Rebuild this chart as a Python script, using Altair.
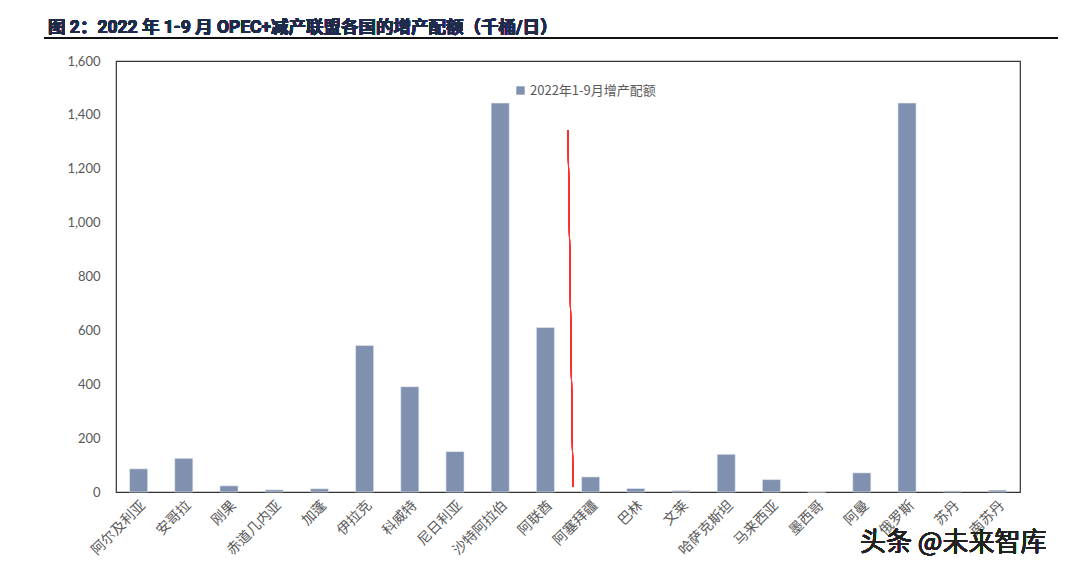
import altair as alt
import pandas as pd

countries = ["阿尔及利亚", "安哥拉", "刚果", "赤道几内亚", "加蓬", "伊拉克", "科威特",
             "尼日利亚", "沙特阿拉伯", "阿联酋", "阿塞拜疆", "巴林", "文莱", "哈萨克斯坦",
             "马来西亚", "墨西哥", "阿曼", "俄罗斯", "苏丹", "南苏丹"]
increase = [86, 125, 23, 8, 12, 544, 391, 150, 1444, 611, 56, 13, 5, 140, 46, 0, 71, 1444, 4, 7]
series_name = "2022年1-9月增产配额"
y_ticks = [0, 200, 400, 600, 800, 1000, 1200, 1400, 1600]
title_text = "图 2：2022 年 1-9 月 OPEC+减产联盟各国的增产配额（千桶/日）"

df = pd.DataFrame({"country": countries, "value": increase, "series": series_name})

W, H = 904, 431
LABEL_FONT = "Lato"
CJK_FONT = "Noto Sans CJK SC"
BAR = "#7F91AE"
GRAY = "#595959"

bars = alt.Chart(df).mark_bar(stroke="#e8ecf3", strokeWidth=0.6).encode(
    x=alt.X("country:N", sort=countries,
            scale=alt.Scale(paddingInner=0.6, paddingOuter=0.3),
            axis=alt.Axis(title=None, labelAngle=-45, labelFont=CJK_FONT, labelFontSize=14,
                          labelColor=GRAY, ticks=False, domain=False, labelPadding=6,
                          labelAlign="right", labelBaseline="top")),
    y=alt.Y("value:Q", scale=alt.Scale(domain=[0, 1600], nice=False),
            axis=alt.Axis(title=None, values=y_ticks, format=",.0f", labelFont=LABEL_FONT,
                          labelFontSize=13, labelColor=GRAY, ticks=False, domain=False,
                          grid=False, labelPadding=16)),
    color=alt.Color("series:N", scale=alt.Scale(range=[BAR]),
                    legend=alt.Legend(title=None, orient="none", legendX=398, legendY=23,
                                      symbolType="square", symbolSize=70,
                                      labelFont=CJK_FONT, labelFontSize=13, labelColor=GRAY,
                                      symbolStrokeWidth=0, labelOffset=3))
)

title_mark = alt.Chart(df).mark_text(
    font="Roboto, Noto Sans CJK SC", fontSize=17.5, fontWeight="bold", color="#1E2B4A",
    align="left", baseline="alphabetic"
).encode(x=alt.value(-68), y=alt.value(-28), text=alt.value(title_text))

underline = alt.Chart(df).mark_rule(color="#111111", strokeWidth=2).encode(
    x=alt.value(-72), x2=alt.value(942), y=alt.value(-23)
)

red_line = alt.Chart(df).mark_rule(color="#ff3030", strokeWidth=1).encode(
    x=alt.value(452), y=alt.value(69), x2=alt.value(457), y2=alt.value(426)
)

watermark = alt.Chart(df).mark_text(font=CJK_FONT, fontSize=26, color="#222222",
                                    align="left", baseline="middle").encode(
    x=alt.value(744), y=alt.value(482), text=alt.value("头条 @未来智库")
)

chart = alt.layer(bars, title_mark, underline, red_line, watermark).properties(
    width=W, height=H,
    autosize=alt.AutoSizeParams(type="none"),
    padding={"left": 108, "top": 53, "right": 40, "bottom": 72},
).configure(
    background="white"
).configure_view(
    stroke="#333333", strokeWidth=1.2
)

chart.save("out.html", embed_options={"renderer": "svg", "actions": False})
